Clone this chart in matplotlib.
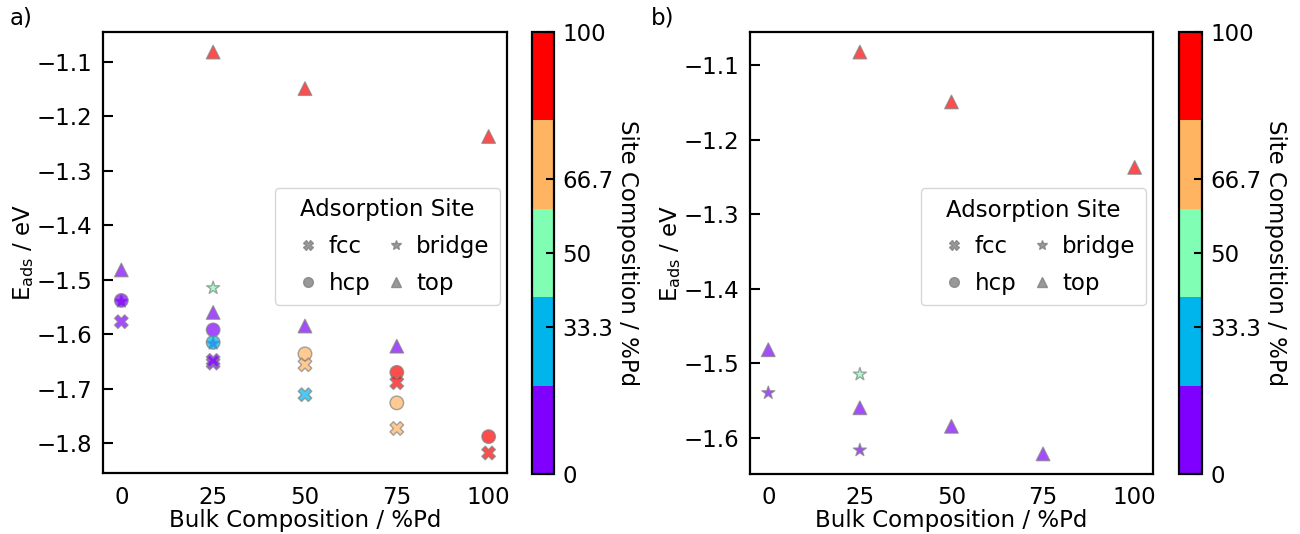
import numpy as np
import matplotlib
matplotlib.use('Agg')
import matplotlib.pyplot as plt
from matplotlib.colors import Normalize
from matplotlib.cm import ScalarMappable
from matplotlib.lines import Line2D

# ---- data ----
# fcc sites
fcc_bulk = [0, 25, 25, 50, 50, 75, 75, 100]
fcc_eads = [-1.577, -1.653, -1.648, -1.656, -1.711, -1.689, -1.773, -1.818]
fcc_site = [0, 0, 0, 66.7, 33.3, 100, 66.7, 100]

# hcp sites
hcp_bulk = [0, 25, 25, 50, 75, 75, 100]
hcp_eads = [-1.538, -1.592, -1.615, -1.636, -1.670, -1.726, -1.788]
hcp_site = [0, 0, 33.3, 66.7, 100, 66.7, 100]

# bridge sites
bridge_bulk = [0, 25, 25]
bridge_eads = [-1.540, -1.515, -1.617]
bridge_site = [0, 50, 0]

# top sites
top_bulk = [0, 25, 25, 50, 50, 75, 100]
top_eads = [-1.482, -1.082, -1.560, -1.149, -1.585, -1.622, -1.237]
top_site = [0, 100, 0, 100, 0, 0, 100]

cbar_ticks = [0, 33.3, 50, 66.7, 100]
cbar_ticklabels = ['0', '33.3', '50', '66.7', '100']
xticks = [0, 25, 50, 75, 100]

# ---- style ----
FS = 16.5
plt.rcParams['font.family'] = ['DejaVu Sans']
plt.rcParams['font.size'] = FS
cmap = plt.get_cmap('rainbow', 5)
norm = Normalize(vmin=0, vmax=100)
msize = 95
alpha = 0.7


def scatter_sites(ax, bulk, eads, site, marker):
    ax.scatter(bulk, eads, c=site, cmap=cmap, norm=norm, marker=marker,
               s=msize, alpha=alpha, edgecolors='grey', linewidths=1)


def style_axis(ax):
    for sp in ax.spines.values():
        sp.set_linewidth(1.6)
    ax.tick_params(axis='y', direction='in', length=7, width=1.5, pad=8)
    ax.tick_params(axis='x', length=0, pad=9)
    ax.set_xticks(xticks)
    ax.set_xlabel('Bulk Composition / %Pd', labelpad=0)
    ax.set_ylabel(r'E$_{\mathrm{ads}}$ / eV', labelpad=0)


def add_legend(ax):
    handles = [
        Line2D([], [], ls='', marker='X', color='grey', ms=7, alpha=0.8),
        Line2D([], [], ls='', marker='o', color='grey', ms=7, alpha=0.8),
        Line2D([], [], ls='', marker='*', color='grey', ms=7, alpha=0.8),
        Line2D([], [], ls='', marker='^', color='grey', ms=7, alpha=0.8),
    ]
    labels = ['fcc', 'hcp', 'bridge', 'top']
    ax.legend(handles, labels, title='Adsorption Site', ncol=2, loc='center right',
              bbox_to_anchor=(1.0, 0.514),
              handlelength=2.0, handletextpad=-0.1, columnspacing=0.1,
              labelspacing=0.6, title_fontsize=FS, borderpad=0.45, borderaxespad=0.3)


def add_cbar(fig, rect):
    cax = fig.add_axes(rect)
    sm = ScalarMappable(norm=norm, cmap=cmap)
    cb = fig.colorbar(sm, cax=cax)
    cb.set_ticks(cbar_ticks)
    cb.set_ticklabels(cbar_ticklabels)
    cb.outline.set_linewidth(1.6)
    cax.tick_params(direction='in', length=6, width=1.5, pad=6)
    cb.set_label('Site Composition / %Pd', rotation=270, labelpad=2, va='bottom')
    return cb


fig = plt.figure(figsize=(13, 5.34), dpi=100)

# panel a: all sites
ax1 = fig.add_axes([0.0792, 0.1142, 0.3108, 0.8258])
scatter_sites(ax1, bridge_bulk, bridge_eads, bridge_site, '*')
scatter_sites(ax1, hcp_bulk, hcp_eads, hcp_site, 'o')
scatter_sites(ax1, fcc_bulk, fcc_eads, fcc_site, 'X')
scatter_sites(ax1, top_bulk, top_eads, top_site, '^')
style_axis(ax1)
add_legend(ax1)
add_cbar(fig, [0.4092, 0.1124, 0.0169, 0.8277])

# panel b: bridge and top sites only
ax2 = fig.add_axes([0.5769, 0.1124, 0.3100, 0.8277])
scatter_sites(ax2, bridge_bulk, bridge_eads, bridge_site, '*')
scatter_sites(ax2, top_bulk, top_eads, top_site, '^')
style_axis(ax2)
add_legend(ax2)
add_cbar(fig, [0.9069, 0.1124, 0.0177, 0.8277])

fig.text(10 / 1300, 1 - 18 / 534, 'a)', ha='left', va='center')
fig.text(651 / 1300, 1 - 18 / 534, 'b)', ha='left', va='center')

fig.savefig('out.png', dpi=100)
